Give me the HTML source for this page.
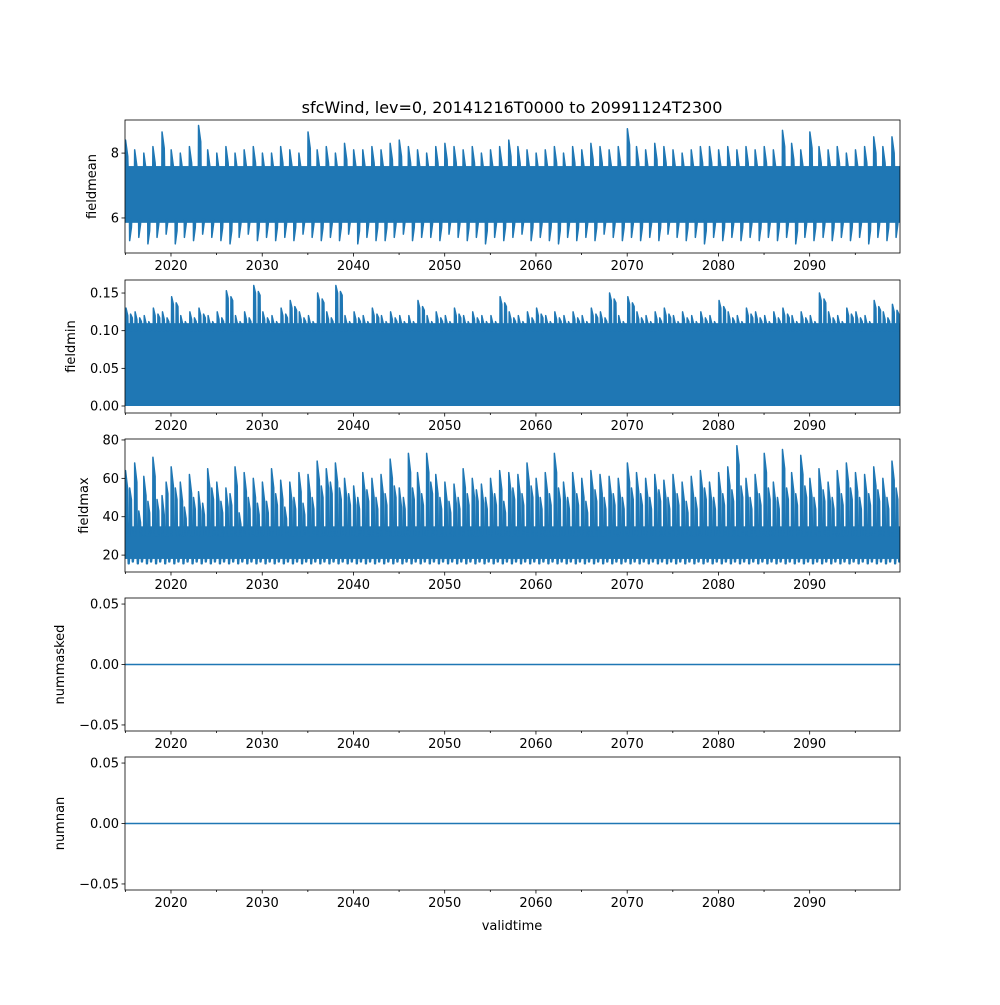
<!DOCTYPE html>
<html><head><meta charset="utf-8"><style>
body{margin:0;background:#fff;}
svg text{font-family:"DejaVu Sans","Liberation Sans",sans-serif;fill:#000;}
</style></head><body>
<svg id="fig" width="1000" height="1000" viewBox="0 0 1000 1000" xmlns="http://www.w3.org/2000/svg">
<rect width="1000" height="1000" fill="#fff"/>
<text x="512" y="113" font-size="16" text-anchor="middle">sfcWind, lev=0, 20141216T0000 to 20991124T2300</text>
<text x="512" y="930" font-size="13" text-anchor="middle">validtime</text>
</svg>
<script>
const years=[];for(let y=2015;y<=2099;y++)years.push(y);
const meanPeak=[8.4,8.1,8.0,8.2,8.65,8.1,8.0,8.2,8.85,8.1,8.0,8.2,8.0,8.1,8.2,8.0,8.0,8.2,8.1,8.0,8.65,8.1,8.2,8.0,8.3,8.1,8.1,8.2,8.1,8.3,8.4,8.2,8.1,8.0,8.2,8.3,8.2,8.1,8.2,8.0,8.1,8.2,8.4,8.2,8.1,8.0,8.1,8.2,8.0,8.2,8.1,8.3,8.2,8.1,8.2,8.75,8.2,8.1,8.3,8.2,8.1,8.0,8.1,8.2,8.2,8.1,8.2,8.1,8.2,8.1,8.2,8.1,8.7,8.3,8.1,8.65,8.2,8.1,8.2,8.0,8.1,8.2,8.5,8.2,8.5];
const meanLow=[5.3,5.4,5.2,5.4,5.5,5.2,5.4,5.3,5.5,5.4,5.3,5.2,5.4,5.5,5.3,5.4,5.3,5.4,5.3,5.5,5.4,5.3,5.4,5.3,5.5,5.2,5.4,5.3,5.3,5.4,5.5,5.3,5.4,5.4,5.3,5.5,5.4,5.3,5.4,5.2,5.4,5.3,5.4,5.5,5.3,5.4,5.3,5.2,5.4,5.3,5.4,5.3,5.5,5.4,5.3,5.4,5.3,5.4,5.3,5.5,5.4,5.3,5.4,5.2,5.4,5.3,5.4,5.3,5.4,5.3,5.4,5.3,5.4,5.2,5.4,5.3,5.4,5.3,5.4,5.3,5.4,5.2,5.4,5.3,5.4];
const minPeak=[0.13,0.125,0.12,0.13,0.125,0.145,0.12,0.125,0.13,0.12,0.125,0.153,0.12,0.125,0.16,0.125,0.12,0.13,0.14,0.125,0.12,0.15,0.125,0.16,0.12,0.125,0.12,0.13,0.12,0.125,0.12,0.12,0.14,0.12,0.125,0.12,0.13,0.12,0.125,0.12,0.12,0.145,0.125,0.12,0.125,0.13,0.12,0.125,0.12,0.125,0.12,0.13,0.125,0.15,0.12,0.145,0.125,0.12,0.125,0.13,0.12,0.125,0.12,0.125,0.12,0.14,0.125,0.12,0.13,0.125,0.12,0.125,0.13,0.12,0.125,0.12,0.15,0.125,0.12,0.13,0.125,0.12,0.14,0.125,0.135];
const maxPeakA=[64,68,61,71,51,66,58,62,53,65,58,55,66,63,60,58,65,59,58,63,62,69,65,68,60,56,63,60,62,70,55,73,63,73,62,58,57,65,60,57,60,64,63,62,68,60,63,73,58,63,60,64,62,61,60,68,63,60,62,59,62,58,61,64,58,63,66,77,60,62,73,58,75,63,72,60,65,58,64,68,63,62,66,60,69];
const maxPeakB=[55,43,48,49,58,55,45,50,47,55,48,52,42,50,47,48,52,45,50,47,50,56,58,55,52,50,54,50,52,56,50,55,52,58,50,48,50,52,54,50,52,48,55,52,56,50,52,55,50,52,48,54,50,52,50,55,52,50,54,50,52,48,50,55,50,52,54,56,50,52,55,50,55,52,56,50,54,50,52,55,50,52,54,50,55];
const masked=[0,0];const nans=[0,0];
const X0=2014.96,X1=2099.9,L=125,R=900;
const xs=t=>L+(t-X0)/(X1-X0)*(R-L);
const svg=document.getElementById('fig');const NS='http://www.w3.org/2000/svg';
function mk(tag,attrs,parent){const e=document.createElementNS(NS,tag);for(const k in attrs)e.setAttribute(k,attrs[k]);(parent||svg).appendChild(e);return e;}
const C='#1f77b4';
const panels=[
{name:'fieldmean',top:120,bot:253,ymin:4.92,ymax:9.02,ticks:[6,8],lab:['6','8']},
{name:'fieldmin',top:280,bot:413,ymin:-0.0093,ymax:0.1673,ticks:[0,0.05,0.1,0.15],lab:['0.00','0.05','0.10','0.15']},
{name:'fieldmax',top:439,bot:572,ymin:11.2,ymax:80.5,ticks:[20,40,60,80],lab:['20','40','60','80']},
{name:'nummasked',top:598,bot:731,ymin:-0.055,ymax:0.055,ticks:[-0.05,0,0.05],lab:['\u22120.05','0.00','0.05']},
{name:'numnan',top:757,bot:890,ymin:-0.055,ymax:0.055,ticks:[-0.05,0,0.05],lab:['\u22120.05','0.00','0.05']}];
panels.forEach((p,pi)=>{
 const g=mk('g',{});
 
 
 const ys=v=>p.bot-(v-p.ymin)/(p.ymax-p.ymin)*(p.bot-p.top);
 const cp=mk('clipPath',{id:'c'+pi},g);mk('rect',{x:L,y:p.top,width:R-L,height:p.bot-p.top},cp);
 const d=mk('g',{'clip-path':'url(#c'+pi+')'},g);
 
 
 let path='';
 const blob=(y,a,b,base,top,drop)=>`M${xs(y+a)} ${ys(base)}L${xs(y+a+0.02)} ${ys(top)}L${xs(y+b-0.04)} ${ys(top-drop)}L${xs(y+b)} ${ys(base)}Z`;
 if(pi===0){
  mk('rect',{x:L,y:ys(7.6),width:R-L,height:ys(5.85)-ys(7.6),fill:C},d);
  years.forEach((y,i)=>{path+=blob(y,0.0,0.3,7.5,meanPeak[i],0.5)+blob(y,0.45,0.7,5.95,meanLow[i],-0.4);});
 } else if(pi===1){
  mk('rect',{x:L,y:ys(0.11),width:R-L,height:ys(0)-ys(0.11),fill:C},d);
  years.forEach((y,i)=>{path+=blob(y,0.05,0.3,0.1,minPeak[i],0.01)+blob(y,0.55,0.8,0.1,minPeak[i]-0.008,0.005);});
 } else if(pi===2){
  mk('rect',{x:L,y:ys(35),width:R-L,height:ys(18)-ys(35),fill:C},d);
  years.forEach((y,i)=>{
   path+=blob(y,0.0,0.3,30,maxPeakA[i],10)+blob(y,0.45,0.7,30,maxPeakB[i],6)+blob(y,0.3,0.45,18,15.5,0)+blob(y,0.75,0.9,18,16.5,0);});
 } else {
  const arr=pi===3?masked:nans;
  path=`M${xs(X0)} ${ys(arr[0])}L${xs(X1)} ${ys(arr[1])}`;
 }
 if(pi<3) mk('path',{d:path,stroke:C,'stroke-width':1.5,fill:C,'stroke-linejoin':'round'},d);
 else mk('path',{d:path,stroke:C,'stroke-width':1.5,fill:'none'},d);
 mk('rect',{x:L,y:p.top,width:R-L,height:p.bot-p.top,fill:'none',stroke:'#000','stroke-width':0.8},g);
 p.ticks.forEach((v,k)=>{const y=ys(v);mk('line',{x1:L-3.5,x2:L,y1:y,y2:y,stroke:'#000','stroke-width':0.8},g);
  const t=mk('text',{x:L-6,y:y+4.5,'font-size':13,'text-anchor':'end'},g);t.textContent=p.lab[k];
  
  });
 for(let yr=2015;yr<=2095;yr+=5){const x=xs(yr);const major=yr%10===0;
  mk('line',{x1:x,x2:x,y1:p.bot,y2:p.bot+(major?3.5:2),stroke:'#000','stroke-width':0.8},g);
  if(major){const t=mk('text',{x:x,y:p.bot+17,'font-size':13,'text-anchor':'middle'},g);t.textContent=yr;
   
   }}
 const xl=pi===0?96:(pi===2?88:(pi===1?75:64));
 const yl=mk('text',{x:xl,y:(p.top+p.bot)/2,'font-size':13,'text-anchor':'middle',transform:`rotate(-90 ${xl} ${(p.top+p.bot)/2})`},g);
 yl.textContent=p.name;
 
 
});
</script>
</body></html>
